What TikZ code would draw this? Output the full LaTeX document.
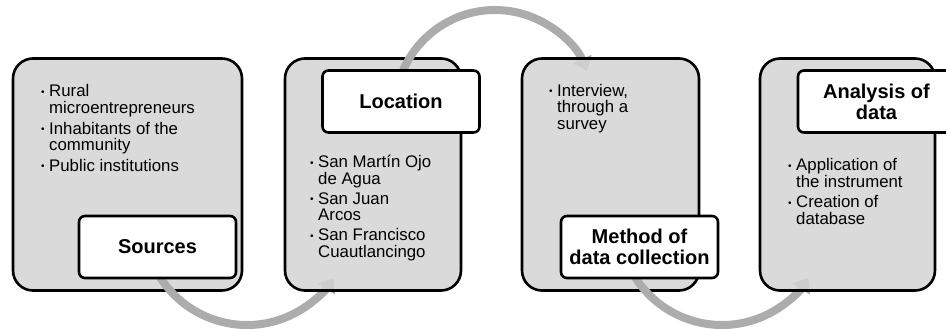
\documentclass[tikz,border=0pt]{standalone}
\usepackage{fontspec}
\setmainfont{Liberation Sans}
\usepackage{tikz}
\usepackage{xcolor}
\usetikzlibrary{positioning}
\usetikzlibrary{arrows.meta}
\definecolor{boxgray}{RGB}{211,211,211}
\definecolor{arcgray}{RGB}{172,172,172}
\tikzstyle{bigbox} = [draw, line width=2.6pt, rounded corners=20pt, fill=boxgray, fill opacity=0.85, minimum height=232pt, inner sep=0pt]
\tikzstyle{headbox} = [draw, line width=2.6pt, rounded corners=6pt, fill=white, minimum width=157pt, minimum height=62pt, align=center, inner sep=0pt, font=\bfseries\fontsize{20}{21}\selectfont]
\tikzstyle{flow} = [draw=arcgray, line width=8pt, -{Triangle[width=20pt,length=13pt]}]
\tikzstyle{bullets} = [anchor=base west, align=left, inner sep=0pt, font=\fontsize{16.8}{16.5}\selectfont]
\newcommand{\bul}{\makebox[8pt][l]{\raisebox{1.5pt}{\fontsize{10}{10}\selectfont\textbullet}}}
\newcommand{\ind}{\hspace*{8pt}}

\begin{document}
\begin{tikzpicture}[x=1pt,y=-1pt]
			\clip (0,0) rectangle (946,329);
			% sources (text placed by its last baseline)
			\node[bigbox, minimum width=229pt] (box1) at (127.5,174.5) {};
			\node[bullets] (txt1) at (41,171) {\bul Rural\\ \ind microentrepreneurs\\[4pt] \bul Inhabitants of the\\ \ind community\\[4pt] \bul Public institutions};
			\coordinate (c1) at (247,222);
			\draw[flow] (c1) ++(150:103) arc[start angle=150, end angle=33, radius=103];
			\node[headbox] (src) at (157.5,247) {Sources};
			
			% location
			\node[bigbox, minimum width=176pt] (box2) at (373,174.5) {};
			\node[bullets] (txt2) at (310,257) {\bul San Martín Ojo\\ \ind de Agua\\[3.5pt] \bul San Juan\\ \ind Arcos\\[3.5pt] \bul San Francisco\\ \ind Cuautlancingo};
			\coordinate (c2) at (495,110);
			\draw[flow] (c2) ++(-160:100) arc[start angle=-160, end angle=-23, radius=100];
			\node[headbox] (loc) at (401,101.5) {Location};
			
			% method
			\node[bigbox, minimum width=177pt] (box3) at (610.5,174.5) {};
			\node[bullets] (txt3) at (549,129) {\bul Interview,\\ \ind through a\\ \ind survey};
			\coordinate (c3) at (722,222);
			\draw[flow] (c3) ++(150:103) arc[start angle=150, end angle=33, radius=103];
			\node[headbox] (meth) at (639.5,247) {Method of\\data collection};
			
			% analysis
			\node[bigbox, minimum width=175pt] (box4) at (847.5,174.5) {};
			\node[bullets] (txt4) at (788,224) {\bul Application of\\ \ind the instrument\\[4pt] \bul Creation of\\ \ind database};
			\node[headbox] (anal) at (876.5,101.5) {Analysis of\\data};
		\end{tikzpicture}
\end{document}
